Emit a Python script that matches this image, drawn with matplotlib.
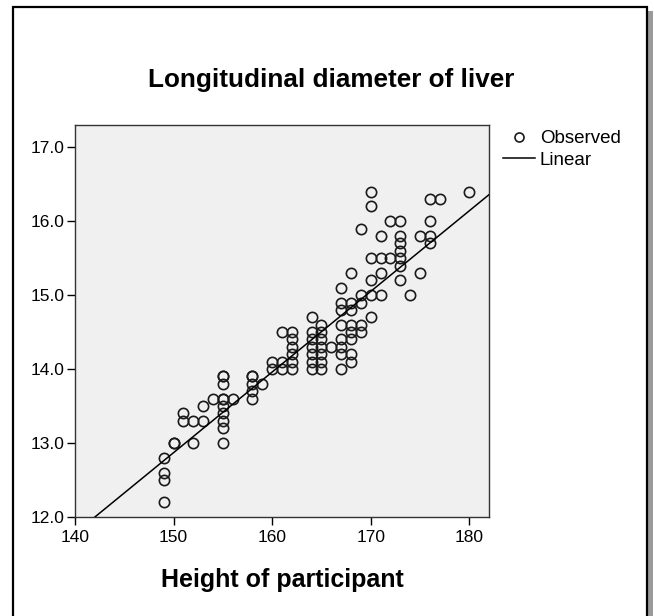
import matplotlib
matplotlib.use("Agg")
import matplotlib.pyplot as plt
from matplotlib.lines import Line2D
from matplotlib.patches import Rectangle
import numpy as np

# ---- data ----
height = [149, 149, 149, 149,
          150, 150,
          151, 151,
          152, 152,
          153, 153,
          154,
          155, 155, 155, 155, 155, 155, 155, 155, 155, 155,
          156,
          158, 158, 158, 158, 158,
          159,
          160, 160,
          161, 161, 161,
          162, 162, 162, 162, 162, 162,
          164, 164, 164, 164, 164, 164, 164,
          165, 165, 165, 165, 165, 165, 165,
          166,
          167, 167, 167, 167, 167, 167, 167, 167,
          168, 168, 168, 168, 168, 168, 168, 168,
          169, 169, 169, 169, 169,
          170, 170, 170, 170, 170, 170,
          171, 171, 171, 171,
          172, 172,
          173, 173, 173, 173, 173, 173, 173,
          174,
          175, 175,
          176, 176, 176, 176,
          177,
          180]
liver = [12.2, 12.5, 12.6, 12.8,
         13.0, 13.0,
         13.3, 13.4,
         13.0, 13.3,
         13.3, 13.5,
         13.6,
         13.0, 13.2, 13.3, 13.4, 13.5, 13.6, 13.6, 13.8, 13.9, 13.9,
         13.6,
         13.6, 13.7, 13.8, 13.9, 13.9,
         13.8,
         14.0, 14.1,
         14.0, 14.1, 14.5,
         14.0, 14.1, 14.2, 14.3, 14.4, 14.5,
         14.0, 14.1, 14.2, 14.3, 14.4, 14.5, 14.7,
         14.0, 14.1, 14.2, 14.3, 14.4, 14.5, 14.6,
         14.3,
         14.0, 14.2, 14.3, 14.4, 14.6, 14.8, 14.9, 15.1,
         14.1, 14.2, 14.4, 14.5, 14.6, 14.8, 14.9, 15.3,
         14.5, 14.6, 14.9, 15.0, 15.9,
         14.7, 15.0, 15.2, 15.5, 16.2, 16.4,
         15.0, 15.3, 15.5, 15.8,
         15.5, 16.0,
         15.2, 15.4, 15.5, 15.6, 15.7, 15.8, 16.0,
         15.0,
         15.3, 15.8,
         15.7, 15.8, 16.0, 16.3,
         16.3,
         16.4]
fit_intercept = -3.48
fit_slope = 0.109

x_ticks = [140, 150, 160, 170, 180]
y_ticks = [12.0, 13.0, 14.0, 15.0, 16.0, 17.0]
title = "Longitudinal diameter of liver"
x_label = "Height of participant"
legend_labels = ["Observed", "Linear"]

plt.rcParams['font.family'] = ['Liberation Sans', 'DejaVu Sans']

W, H = 654, 616
fig = plt.figure(figsize=(W / 100, H / 100), dpi=100)
fig.patch.set_facecolor("white")

# outer frame with shadow
fig.patches.append(Rectangle((17 / W, -0.05), 636 / W, (1 - 11 / H) + 0.05,
                             transform=fig.transFigure, facecolor="#9a9a9a",
                             edgecolor="none", zorder=0))
fig.patches.append(Rectangle((13 / W, -0.05), 634 / W, (1 - 7 / H) + 0.05,
                             transform=fig.transFigure, facecolor="white",
                             edgecolor="black", linewidth=1.6, zorder=1))

ax = fig.add_axes([75 / W, 1 - 517 / H, (489 - 75) / W, (517 - 125) / H])
ax.set_zorder(2)
ax.set_facecolor("#f0f0f0")
ax.set_xlim(140, 182)
ax.set_ylim(12.0, 17.3)

ax.plot(height, liver, linestyle="none", marker="o", markersize=7.4,
        markerfacecolor="none", markeredgecolor="#1a1a1a", markeredgewidth=1.2,
        zorder=3)
xs = np.array(ax.get_xlim())
ax.plot(xs, fit_intercept + fit_slope * xs, color="black", linewidth=1.1,
        zorder=4)

ax.set_xticks(x_ticks)
ax.set_xticklabels([str(v) for v in x_ticks])
ax.set_yticks(y_ticks)
ax.set_yticklabels([f"{v:.1f}" for v in y_ticks])
ax.tick_params(direction="out", length=5.5, width=1.0, colors="black",
               labelsize=12.5)
ax.tick_params(axis="x", pad=4)
ax.tick_params(axis="y", pad=2)
for s in ax.spines.values():
    s.set_color("#333333")
    s.set_linewidth(1.0)

fig.text(331 / W, 1 - 80 / H, title, ha="center", va="center",
         fontsize=18.8, fontweight="bold")
fig.text(282 / W, 1 - 580 / H, x_label, ha="center", va="center",
         fontsize=18, fontweight="bold")

handles = [Line2D([], [], linestyle="none", marker="o", markersize=6.5,
                  markerfacecolor="none", markeredgecolor="#1a1a1a",
                  markeredgewidth=1.2),
           Line2D([], [], color="black", linewidth=1.1)]
fig.legend(handles, legend_labels, loc="upper left",
           bbox_to_anchor=(503 / W, 1 - 130 / H), frameon=False,
           fontsize=13.5, handlelength=1.7, handletextpad=0.27,
           labelspacing=0.25, borderaxespad=0, borderpad=0)

fig.savefig("out.png", dpi=100)
